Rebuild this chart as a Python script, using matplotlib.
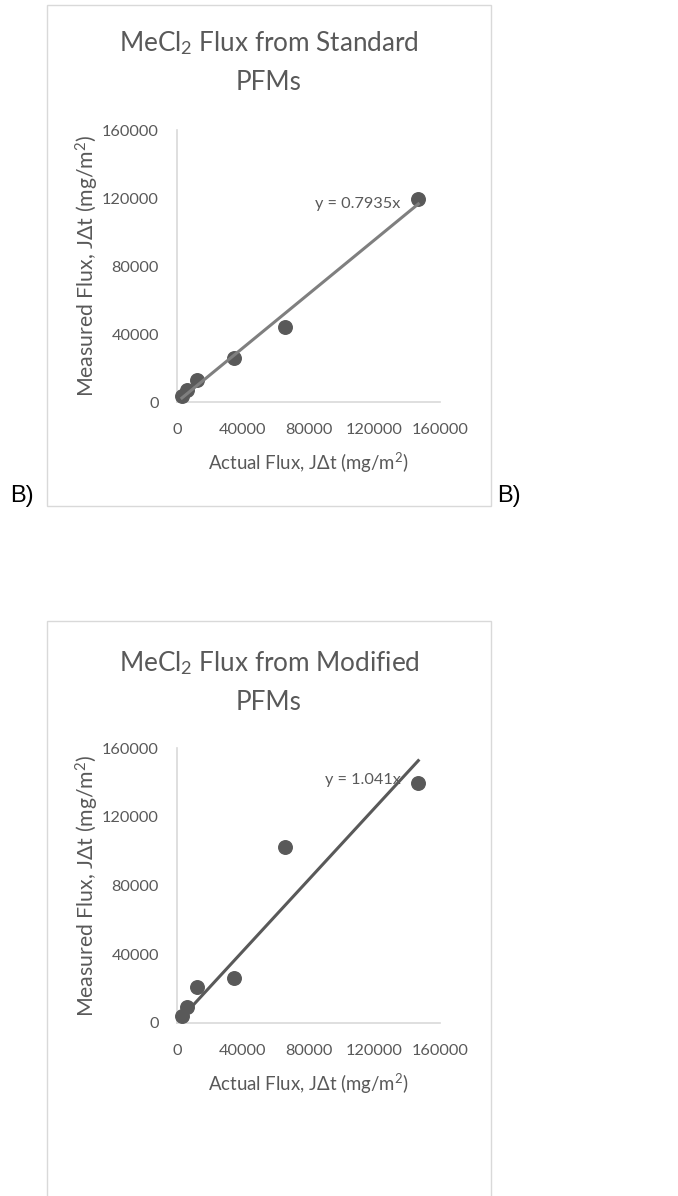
import matplotlib
matplotlib.use("Agg")
import matplotlib.pyplot as plt
import numpy as np
from matplotlib.patches import Rectangle

plt.rcParams['font.family'] = ['Lato', 'DejaVu Sans']
plt.rcParams['mathtext.fontset'] = 'custom'
plt.rcParams['mathtext.rm'] = 'Lato'
plt.rcParams['mathtext.it'] = 'Lato:italic'

actual_flux = [3000, 6300, 12300, 34700, 65700, 146800]
standard_measured = [3300, 7000, 13000, 25700, 44300, 119400]
modified_measured = [4000, 9000, 21000, 25900, 102200, 139800]
standard_slope = 0.7935
modified_slope = 1.041
ticks = [0, 40000, 80000, 120000, 160000]

TEXT = '#595959'
AXIS = '#d9d9d9'
MARK = '#595959'

W, H = 678, 1196
fig = plt.figure(figsize=(W / 100, H / 100), dpi=100)


def fx(px):
    return px / W


def fy(py):
    return 1 - py / H


def panel(top_px, bottom_px, border_top, border_bottom, measured, slope,
          line_color, eq_text, eq_xy):
    fig.patches.append(Rectangle((fx(47), fy(border_bottom)), fx(491) - fx(47),
                                 fy(border_top) - fy(border_bottom),
                                 transform=fig.transFigure, fill=False,
                                 edgecolor=AXIS, linewidth=1.0))
    ax = fig.add_axes([fx(177), fy(bottom_px), fx(440) - fx(177), fy(top_px) - fy(bottom_px)])
    ax.set_xlim(0, 160000)
    ax.set_ylim(0, 160000)
    ax.set_xticks(ticks)
    ax.set_yticks(ticks)
    ax.set_xticklabels([str(t) for t in ticks])
    ax.set_yticklabels([str(t) for t in ticks])
    ax.tick_params(length=0, labelsize=11.7, colors=TEXT)
    ax.tick_params(axis='x', pad=15)
    ax.tick_params(axis='y', pad=13)
    for s in ['top', 'right']:
        ax.spines[s].set_visible(False)
    for s in ['left', 'bottom']:
        ax.spines[s].set_color(AXIS)
        ax.spines[s].set_linewidth(1.2)
    ax.patch.set_alpha(0)
    xs = np.array(actual_flux, dtype=float)
    ax.scatter(xs, measured, s=95, color=MARK, zorder=3, clip_on=False)
    xl = np.array([xs.min(), xs.max()])
    ax.plot(xl, slope * xl, color=line_color, linewidth=2.2, zorder=4, clip_on=False)
    ax.set_xlabel('Actual Flux, J\u0394t (mg/m$^2$)', fontsize=13.4, color=TEXT, labelpad=10)
    ax.set_ylabel('Measured Flux, J\u0394t (mg/m$^2$)', fontsize=15.3, color=TEXT, labelpad=1)
    ax.text(eq_xy[0], eq_xy[1], eq_text, fontsize=11.7, color=TEXT,
            ha='left', va='center', transform=ax.transData, zorder=2)
    return ax


# Top panel
panel(130, 402, 5, 506, standard_measured, standard_slope, '#7f7f7f',
      'y = 0.7935x', (84000, 116500))
fig.text(fx(269), fy(43), 'MeCl$_2$ Flux from Standard', ha='center', va='center',
         fontsize=18.8, color=TEXT)
fig.text(fx(269), fy(83), 'PFMs', ha='center', va='center', fontsize=18.8, color=TEXT)

# Bottom panel
panel(748.3, 1022.7, 621, 1240, modified_measured, modified_slope, '#595959',
      'y = 1.041x', (90000, 141500))
fig.text(fx(269), fy(663), 'MeCl$_2$ Flux from Modified', ha='center', va='center',
         fontsize=18.8, color=TEXT)
fig.text(fx(269), fy(702), 'PFMs', ha='center', va='center', fontsize=18.8, color=TEXT)

# Panel letters
fig.text(fx(10), fy(496), 'B)', ha='left', va='center', fontsize=17, color='black',
         family=['Liberation Sans', 'DejaVu Sans'])
fig.text(fx(497), fy(496), 'B)', ha='left', va='center', fontsize=17, color='black',
         family=['Liberation Sans', 'DejaVu Sans'])

fig.savefig('out.png', dpi=100)
